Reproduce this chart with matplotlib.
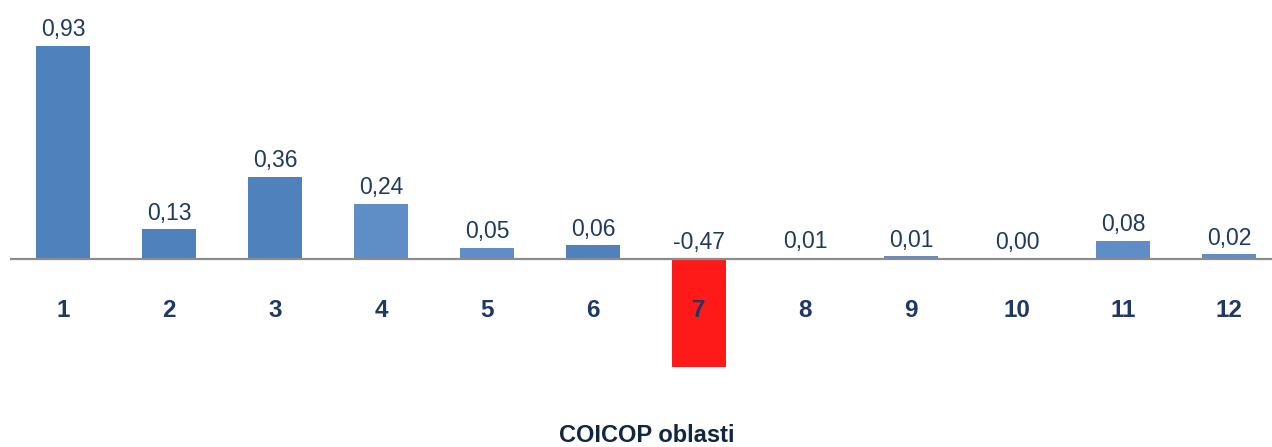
import matplotlib
matplotlib.use("Agg")
import matplotlib.pyplot as plt

categories = ["1", "2", "3", "4", "5", "6", "7", "8", "9", "10", "11", "12"]
values = [0.93, 0.13, 0.36, 0.24, 0.05, 0.06, -0.47, 0.004, 0.012, 0.0, 0.08, 0.02]
value_labels = ["0,93", "0,13", "0,36", "0,24", "0,05", "0,06", "-0,47", "0,01", "0,01", "0,00", "0,08", "0,02"]
bar_colors = ["#4F81BD", "#4F81BD", "#4F81BD", "#5F8DC6", "#5F8DC6", "#4F81BD",
              "#FF1A1A", "#5F8DC6", "#5F8DC6", "#5F8DC6", "#5F8DC6", "#5F8DC6"]
xlabel = "COICOP oblasti"

plt.rcParams['font.family'] = ['Liberation Sans', 'DejaVu Sans']

W, H = 1272, 447
fig = plt.figure(figsize=(W / 100, H / 100), dpi=100)
left_px = 10
ax = fig.add_axes([left_px / W, 0, (W - left_px) / W, 1])
ax.set_axis_off()

step = 106.0
x = list(range(len(categories)))
ax.set_xlim(-0.5, -0.5 + (W - left_px) / step)
ppu = 229.0
zero_px = 259.0
ax.set_ylim(-(H - zero_px) / ppu, zero_px / ppu)

ax.bar(x, values, width=0.51, color=bar_colors, zorder=2)
ax.axhline(0, color="#8C8C8C", lw=1.6, zorder=3)

for xi, v, lab in zip(x, values, value_labels):
    top = max(v, 0)
    ax.annotate(lab, (xi, top), xytext=(0, 7), textcoords="offset points",
                ha="center", va="baseline", fontsize=16.5, color="#1F3A5F")

tick_y = -(317 - zero_px) / ppu
for xi, c in zip(x, categories):
    ax.text(xi, tick_y, c, ha="center", va="baseline", fontsize=17.5,
            fontweight="bold", color="#1F3864")

fig.text(647 / W, 1 - 441.5 / H, xlabel, ha="center", va="baseline",
         fontsize=17, fontweight="bold", color="#0F2741")

fig.savefig("out.png", dpi=100)
